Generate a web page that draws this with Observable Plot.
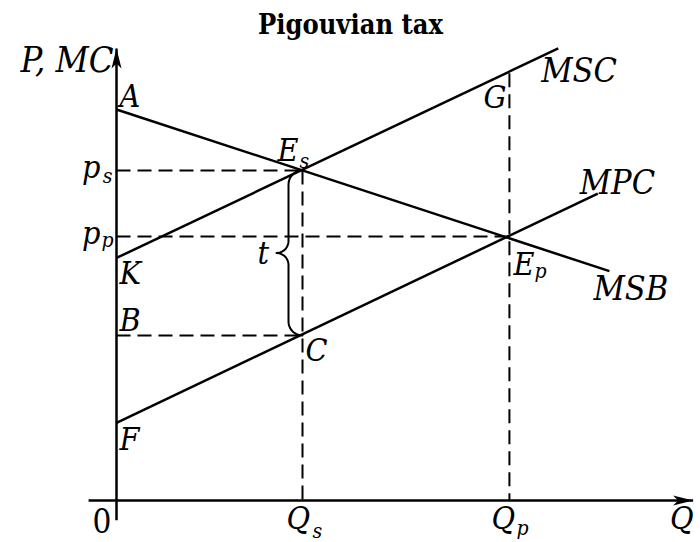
<!DOCTYPE html>
<html><head><meta charset="utf-8">
<script src="https://cdn.jsdelivr.net/npm/d3@7"></script>
<script src="https://cdn.jsdelivr.net/npm/@observablehq/plot@0.6"></script>
<style>
html,body{margin:0;padding:0;background:#fff;color:#000;}
#chart svg text{font-family:"DejaVu Serif Condensed","DejaVu Serif",serif !important;font-stretch:condensed;}
</style>
</head><body><div id="chart"></div>
<script>
// ---- data (economic units) ----
const Qs = 4, Qp = 8.45;              // quantities
const ps = 10, pp = 8, pB = 5;        // price levels
const pG = 12.95;                     // MSC at Qp
const curveNames = ["MSB", "MSC", "MPC"];
const curveP0 = [11.85, 7.35, 2.35];  // intercepts A, K, F
const curveQ1 = [10.6, 9.5, 10.35];   // end quantity
const curveP1 = [6.95, 13.7, 9.3];    // end price
const axisQ = [-0.6, 12.4];
const axisP = [-0.6, 13.7];
const interceptLabels = ["A", "K", "F"];

// ---- scales ----
const xDomain = [0, 12.5], xRange = [116, 697.25];
const yDomain = [0, 15], yRange = [500, 5];
const kx = (xRange[1] - xRange[0]) / (xDomain[1] - xDomain[0]);
const ky = (yRange[0] - yRange[1]) / (yDomain[1] - yDomain[0]);

const curves = curveNames.map((n, i) => ({name: n, q1: 0, p1: curveP0[i], q2: curveQ1[i], p2: curveP1[i]}));
const dashes = [
  {q1: 0, p1: ps, q2: Qs, p2: ps},
  {q1: 0, p1: pp, q2: Qp, p2: pp},
  {q1: 0, p1: pB, q2: Qs, p2: pB},
  {q1: Qs, p1: ps, q2: Qs, p2: 0},
  {q1: Qp, p1: pG, q2: Qp, p2: 0}
];
const axes = [
  {q1: 0, p1: axisP[0], q2: 0, p2: axisP[1]},
  {q1: axisQ[0], p1: 0, q2: axisQ[1], p2: 0}
];

function bracePoints() {
  const r1 = 14, r2 = 12;
  const H = (ps - pB) * ky, M = H / 2;
  const pts = [];
  const arc = (cx, cy, r, a0, a1) => {
    for (let i = 0; i <= 10; i++) {
      const a = (a0 + (a1 - a0) * i / 10) * Math.PI / 180;
      pts.push([cx + r * Math.cos(a), cy + r * Math.sin(a)]);
    }
  };
  arc(0, r1, r1, -90, -180);
  arc(-r1 - r2, M - r2, r2, 0, 90);
  arc(-r1 - r2, M + r2, r2, -90, 0);
  arc(0, H - r1, r1, 180, 90);
  return pts.map(([dx, dy]) => ({q: Qs + dx / kx, p: ps - dy / ky}));
}

const arrowHead = {
  draw(ctx) {
    ctx.moveTo(0, 0); ctx.lineTo(5, 20); ctx.lineTo(0, 15); ctx.lineTo(-5, 20); ctx.closePath();
  }
};

const FONT = "'DejaVu Serif Condensed', 'DejaVu Serif', serif";
const T = (text, q, p, dx, dy, o = {}) => Plot.text([{q, p, text}], {
  x: "q", y: "p", text: "text", dx, dy, textAnchor: "start", lineAnchor: "bottom",
  fontFamily: FONT, fontStyle: "italic", fontSize: 32, fill: "black", ...o
});
const SUB = {fontSize: 21};
const BIG = {fontSize: 34};

const chart = Plot.plot({
  width: 700, height: 542,
  margin: 0,
  style: {background: "white", color: "black", fontFamily: FONT},
  x: {domain: xDomain, range: xRange, axis: null},
  y: {domain: yDomain, range: yRange, axis: null},
  marks: [
    Plot.link(dashes, {x1: "q1", y1: "p1", x2: "q2", y2: "p2", stroke: "black", strokeWidth: 2, strokeDasharray: "14,7", strokeLinecap: "butt"}),
    Plot.link(axes, {x1: "q1", y1: "p1", x2: "q2", y2: "p2", stroke: "black", strokeWidth: 2.5, strokeLinecap: "butt"}),
    Plot.dot([{q: 0, p: axisP[1], r: 0}, {q: axisQ[1], p: 0, r: 90}], {x: "q", y: "p", rotate: "r", symbol: arrowHead, fill: "black", stroke: "none"}),
    Plot.link(curves, {x1: "q1", y1: "p1", x2: "q2", y2: "p2", stroke: "black", strokeWidth: 2.5, strokeLinecap: "butt"}),
    Plot.line(bracePoints(), {x: "q", y: "p", stroke: "black", strokeWidth: 2, curve: "linear"}),
    Plot.text(["Pigouvian tax"], {frameAnchor: "top", dy: 33, lineAnchor: "bottom", fontWeight: "bold", fontSize: 27, fontFamily: FONT, fill: "black"}),
    T("P, MC", 0, axisP[1], -3, 24, {textAnchor: "end", fontSize: 36}),
    T(interceptLabels[0], 0, curveP0[0], 3, -2),
    T(interceptLabels[1], 0, curveP0[1], 3, 26),
    T(interceptLabels[2], 0, curveP0[2], 3, 27),
    T("B", 0, pB, 3, -5),
    T("p", 0, ps, -16, 7, {textAnchor: "end"}),
    T("s", 0, ps, -4, 12, {textAnchor: "end", ...SUB}),
    T("p", 0, pp, -16, 7, {textAnchor: "end"}),
    T("p", 0, pp, -3, 10, {textAnchor: "end", ...SUB}),
    T("E", Qs, ps, -25, -10),
    T("s", Qs, ps, -3, -3, SUB),
    T("C", Qs, pB, 3, 25),
    T("t", Qs, (ps + pB) / 2, -45, 11),
    T("G", Qp, pG, -3, 35, {textAnchor: "end"}),
    T("E", Qp, pp, 4, 38),
    T("p", Qp, pp, 25, 41, SUB),
    T("Q", Qs, 0, -16, 28),
    T("s", Qs, 0, 10, 37, SUB),
    T("Q", Qp, 0, -18, 28),
    T("p", Qp, 0, 7, 34, SUB),
    T("Q", axisQ[1], 0, -23, 28),
    T("0", 0, 0, -5, 32, {textAnchor: "end", fontStyle: "normal", fontSize: 33}),
    T(curveNames[0], curveQ1[0], curveP1[0], -16, 29, BIG),
    T(curveNames[1], curveQ1[1], curveP1[1], -17, 34, BIG),
    T(curveNames[2], curveQ1[2], curveP1[2], -18, 0, BIG)
  ]
});
document.getElementById("chart").appendChild(chart);
</script>
</body></html>
